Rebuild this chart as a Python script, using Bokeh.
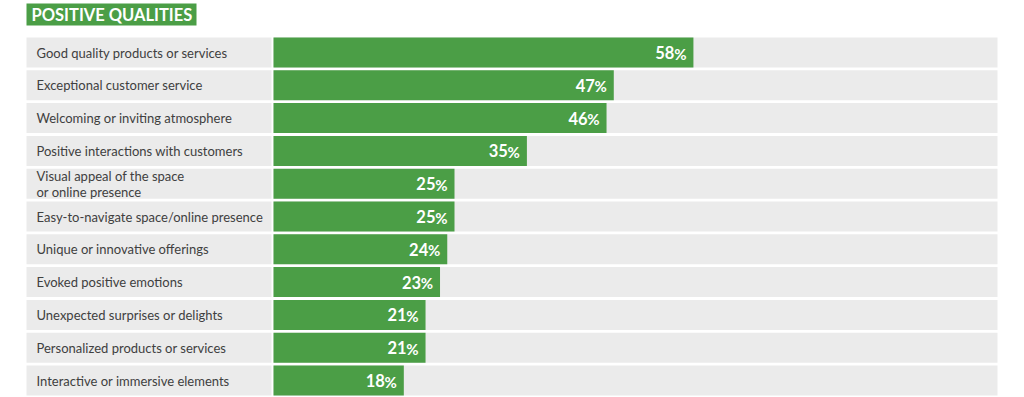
from bokeh.plotting import figure
from bokeh.models import Range1d, ColumnDataSource
from bokeh.core.properties import value
from bokeh.embed import file_html
from bokeh.resources import INLINE

title_text = "POSITIVE QUALITIES"
categories = [
    "Good quality products or services",
    "Exceptional customer service",
    "Welcoming or inviting atmosphere",
    "Positive interactions with customers",
    "Visual appeal of the space\nor online presence",
    "Easy-to-navigate space/online presence",
    "Unique or innovative offerings",
    "Evoked positive emotions",
    "Unexpected surprises or delights",
    "Personalized products or services",
    "Interactive or immersive elements",
]
values = [58, 47, 46, 35, 25, 25, 24, 23, 21, 21, 18]
full_scale = 100

GREEN = "#4b9e46"
GREY = "#ebebeb"
TEXT = "#404040"

W, H = 1024, 397
PX = 7.24            # pixels per percent
X0 = 273             # screen x of 0%
xs = -X0 / PX
xe = xs + W / PX
PITCH = 32.8
C0 = 52              # screen y of first row center
ys = -C0 / PITCH
ye = ys + H / PITCH

p = figure(width=W, height=H, output_backend="svg", toolbar_location=None,
           x_range=Range1d(xs, xe), y_range=Range1d(ye, ys),
           min_border=0, outline_line_color=None)
p.axis.visible = False
p.grid.visible = False
p.background_fill_color = "white"
p.border_fill_color = "white"

n = len(categories)
idx = list(range(n))
bar_h = 30 / PITCH

src = ColumnDataSource(dict(
    y=idx, cat=categories, val=values,
    full=[full_scale] * n,
    pct=["%"] * n,
    num=[str(v) for v in values],
))

lab_left = (26 - X0) / PX
lab_right = (271 - X0) / PX

# label backgrounds
p.hbar(y="y", left=lab_left, right=lab_right, height=bar_h, source=src,
       fill_color=GREY, line_color=None)
# track backgrounds
p.hbar(y="y", left=0, right="full", height=bar_h, source=src,
       fill_color=GREY, line_color=None)
# value bars
p.hbar(y="y", left=0, right="val", height=bar_h, source=src,
       fill_color=GREEN, line_color=None)

# category labels
p.text(x=(36 - X0) / PX, y="y", text="cat", source=src,
       text_font=value("Lato"), text_font_size="13px", text_color=TEXT,
       text_align="left", text_baseline="middle", text_line_height=1.0)

# value labels
p.text(x="val", y="y", text="pct", source=src, x_offset=-7, y_offset=1,
       text_font=value("Lato"), text_font_size="15px", text_font_style="bold",
       text_color="white", text_align="right", text_baseline="middle")
p.text(x="val", y="y", text="num", source=src, x_offset=-19, y_offset=0,
       text_font=value("Lato"), text_font_size="16.5px", text_font_style="bold",
       text_color="white", text_align="right", text_baseline="middle")

# title box
t_top = (3 - C0) / PITCH
t_bot = (25 - C0) / PITCH
p.quad(left=[lab_left], right=[(196 - X0) / PX], top=[t_top], bottom=[t_bot],
       fill_color=GREEN, line_color=None)
p.text(x=[(31 - X0) / PX], y=[(t_top + t_bot) / 2], text=[title_text],
       text_font=value("Lato"), text_font_size="16.5px", text_font_style="bold",
       text_color="white", text_align="left", text_baseline="middle")

open("out.html", "w").write(file_html(p, INLINE))
